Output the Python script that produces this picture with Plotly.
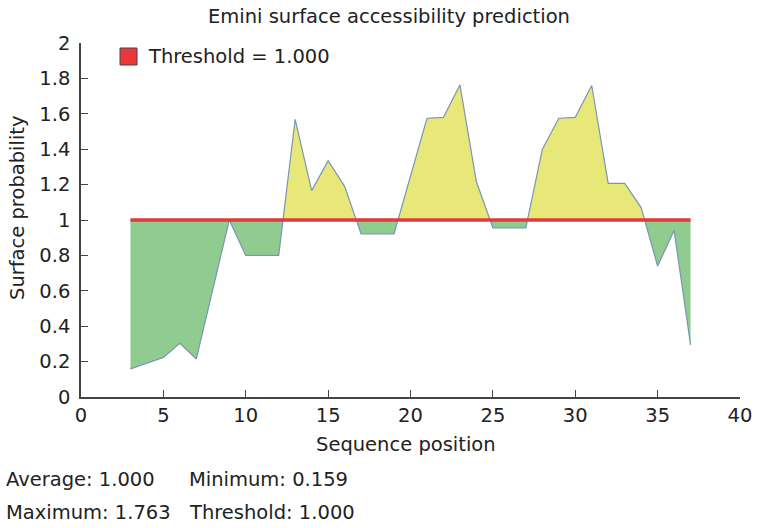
import plotly.graph_objects as go

# ---- data ----
positions = [3, 5, 6, 7, 9, 10, 12, 13, 14, 15, 16, 17, 19, 20, 21, 22, 23, 24,
             25, 27, 28, 29, 30, 31, 32, 33, 34, 35, 36, 37]
scores = [0.159, 0.224, 0.303, 0.215, 1.0, 0.80, 0.80, 1.569, 1.166, 1.335, 1.19,
          0.921, 0.921, 1.25, 1.575, 1.58, 1.763, 1.216, 0.956, 0.956, 1.399,
          1.575, 1.58, 1.76, 1.207, 1.207, 1.07, 0.740, 0.940, 0.294]
threshold = 1.0
x_ticks = [0, 5, 10, 15, 20, 25, 30, 35, 40]
y_ticks = [0, 0.2, 0.4, 0.6, 0.8, 1, 1.2, 1.4, 1.6, 1.8, 2]
stats_left = ["Average: 1.000", "Maximum: 1.763"]
stats_right = ["Minimum: 0.159", "Threshold: 1.000"]
title_text = "Emini surface accessibility prediction"
legend_text = "Threshold = 1.000"
x_title = "Sequence position"
y_title = "Surface probability"

FONT = "DejaVu Sans"
FS = 19.5
TXT = "#222222"

# plot area in pixels
L, R, T, B = 81, 740, 43, 397
PW, PH = R - L, B - T


def px(xp):
    return (xp - L) / PW


def py(yp):
    return (B - yp) / PH


# insert threshold crossings so fills split exactly at the threshold
xs, ys = [positions[0]], [scores[0]]
for i in range(1, len(positions)):
    x0, y0 = positions[i - 1], scores[i - 1]
    x1, y1 = positions[i], scores[i]
    if (y0 - threshold) * (y1 - threshold) < 0:
        t = (threshold - y0) / (y1 - y0)
        xs.append(x0 + t * (x1 - x0))
        ys.append(threshold)
    xs.append(x1)
    ys.append(y1)
upper = [max(v, threshold) for v in ys]
lower = [min(v, threshold) for v in ys]
base = [threshold] * len(xs)

fig = go.Figure()
fig.add_trace(go.Scatter(x=xs, y=base, mode="lines", line=dict(width=0),
                         showlegend=False, hoverinfo="skip"))
fig.add_trace(go.Scatter(x=xs, y=upper, mode="lines", line=dict(width=0),
                         fill="tonexty", fillcolor="#e8e878", showlegend=False,
                         hoverinfo="skip"))
fig.add_trace(go.Scatter(x=xs, y=base, mode="lines", line=dict(width=0),
                         showlegend=False, hoverinfo="skip"))
fig.add_trace(go.Scatter(x=xs, y=lower, mode="lines", line=dict(width=0),
                         fill="tonexty", fillcolor="#90cc90", showlegend=False,
                         hoverinfo="skip"))
fig.add_trace(go.Scatter(x=positions, y=scores, mode="lines",
                         line=dict(color="#7a96b4", width=1.2), showlegend=False))
fig.add_trace(go.Scatter(x=[positions[0], positions[-1]], y=[threshold, threshold],
                         mode="lines", line=dict(color="#e03a3a", width=3.5),
                         showlegend=False))

# legend (red square + label)
fig.add_shape(type="rect", xref="paper", yref="paper",
              x0=px(120), x1=px(137), y0=py(65), y1=py(48),
              fillcolor="#e8383a", line=dict(color="#444444", width=1))
fig.add_annotation(text=legend_text, xref="paper", yref="paper",
                   x=px(146), y=py(57), xanchor="left", yanchor="middle",
                   showarrow=False, font=dict(family=FONT, size=FS, color=TXT))

# title
fig.add_annotation(text=title_text, xref="paper", yref="paper",
                   x=px(389), y=py(17), xanchor="center", yanchor="middle",
                   showarrow=False, font=dict(family=FONT, size=FS, color=TXT))

# axis titles
fig.add_annotation(text=x_title, xref="paper", yref="paper",
                   x=px(406), y=py(444), xanchor="center", yanchor="middle",
                   showarrow=False, font=dict(family=FONT, size=FS, color=TXT))
fig.add_annotation(text=y_title, xref="paper", yref="paper",
                   x=px(17), y=py(208), xanchor="center", yanchor="middle",
                   textangle=-90, showarrow=False,
                   font=dict(family=FONT, size=FS, color=TXT))

# stats text
for i, (a, b) in enumerate(zip(stats_left, stats_right)):
    yy = py(479 + 33 * i)
    fig.add_annotation(text=a, xref="paper", yref="paper", x=px(4), y=yy,
                       xanchor="left", yanchor="middle", showarrow=False,
                       font=dict(family=FONT, size=FS, color=TXT))
    fig.add_annotation(text=b, xref="paper", yref="paper", x=px(187), y=yy,
                       xanchor="left", yanchor="middle", showarrow=False,
                       font=dict(family=FONT, size=FS, color=TXT))

fig.update_layout(
    width=758, height=528,
    margin=dict(l=L, r=758 - R, t=T, b=528 - B, autoexpand=False),
    paper_bgcolor="white", plot_bgcolor="white",
    font=dict(family=FONT, size=FS, color=TXT),
    showlegend=False,
)
fig.update_xaxes(range=[0, 40], tickvals=x_ticks, ticks="inside", ticklen=7,
                 tickcolor="#444444", showline=True, linecolor="#444444",
                 linewidth=1.5, showgrid=False, zeroline=False, automargin=False,
                 tickfont=dict(size=FS))
fig.update_yaxes(range=[0, 2], tickvals=y_ticks, ticks="inside", ticklen=7,
                 tickcolor="#444444", showline=True, linecolor="#444444",
                 linewidth=1.5, showgrid=False, zeroline=False, automargin=False,
                 ticklabelstandoff=5, tickfont=dict(size=FS))

fig.write_html("out.html", config={"displayModeBar": False},
               post_script="document.body.style.margin='0';"
                           "document.body.style.padding='0';")
